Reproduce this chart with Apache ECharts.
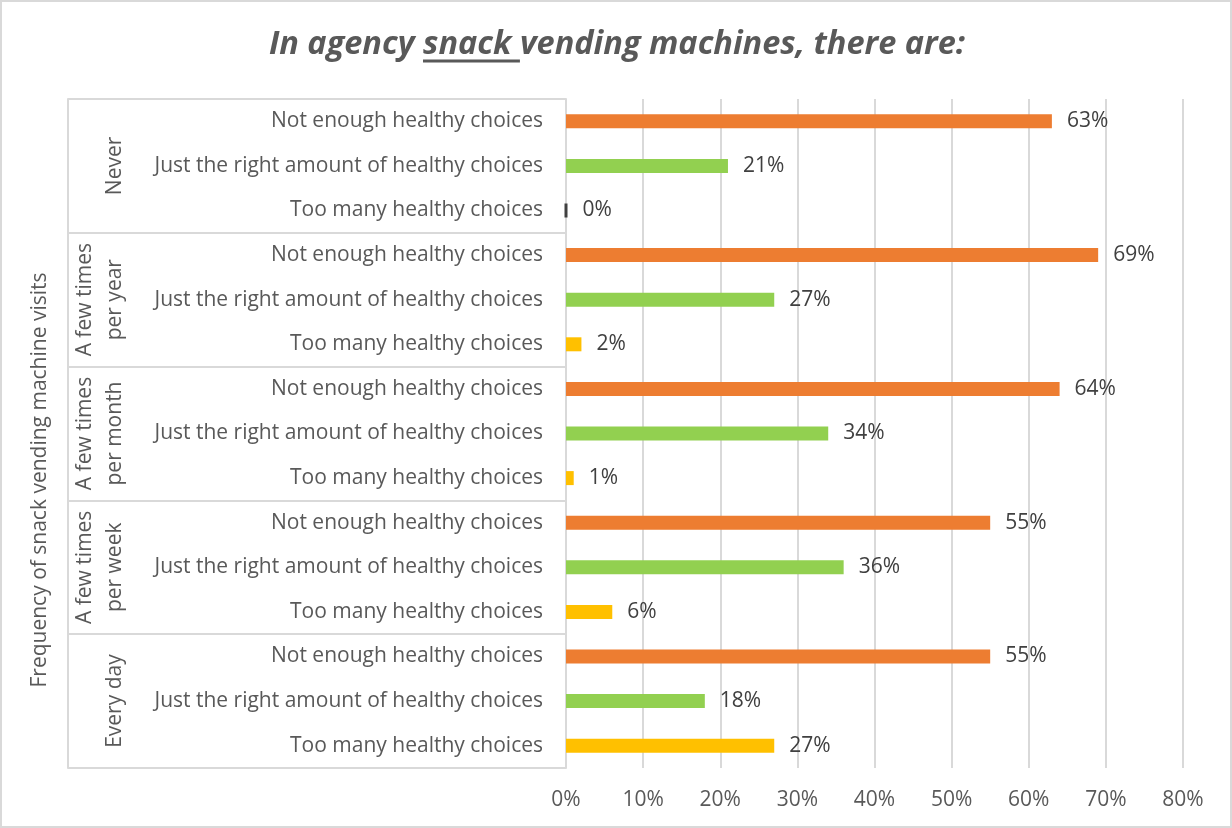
<!DOCTYPE html>
<html>
<head>
<meta charset="utf-8">
<script src="https://cdn.jsdelivr.net/npm/echarts@6/dist/echarts.min.js"></script>
<style>
  html, body { margin: 0; padding: 0; background: #fff; }
  #chart { width: 1232px; height: 828px; }
</style>
</head>
<body>
<div id="chart"></div>
<script>
// Visit frequency groups (top to bottom)
const groups = ['Never', 'A few times\nper year', 'A few times\nper month', 'A few times\nper week', 'Every day'];
// Answer options within each group
const choices = ['Not enough healthy choices', 'Just the right amount of healthy choices', 'Too many healthy choices'];
// Percent of respondents per group, in the same order as choices
const neverValues = [63, 21, 0];
const yearValues = [69, 27, 2];
const monthValues = [64, 34, 1];
const weekValues = [55, 36, 6];
const dailyValues = [55, 18, 27];
// x axis ticks
const xTicks = [0, 10, 20, 30, 40, 50, 60, 70, 80];

const titleText = 'In agency snack vending machines, there are:';
const axisTitle = 'Frequency of snack vending machine visits';

const choiceColors = ['#ED7D31', '#92D050', '#FFC000'];
const FONT = '"Open Sans", "Liberation Sans", sans-serif';
const FS = 21;
const gridLeft = 566, gridTop = 99, gridRight = 49, gridBottom = 60;
const outerLeft = 68;

const groupValues = [neverValues, yearValues, monthValues, weekValues, dailyValues];
const categories = [];
const barData = [];
groupValues.forEach(vals => {
  vals.forEach((v, i) => {
    categories.push(choices[i]);
    const item = { value: v, itemStyle: { color: choiceColors[i] } };
    if (v === 0) {
      // a zero-length bar still shows as a thin dark stroke
      item.itemStyle.borderColor = '#404040';
      item.itemStyle.borderWidth = 3;
    }
    barData.push(item);
  });
});

// Title layout: measure text so the word "snack" can be underlined
const titleFont = 'italic bold 32.5px ' + FONT;
const ctx = document.createElement('canvas').getContext('2d');
ctx.font = titleFont;
const fullW = ctx.measureText(titleText).width;
const preW = ctx.measureText('In agency ').width;
const snackW = ctx.measureText('In agency snack ').width;
const titleCx = 617, titleY = 45;
const titleX0 = titleCx - fullW / 2;

const chart = echarts.init(document.getElementById('chart'), null, { renderer: 'canvas' });

chart.setOption({
  animation: false,
  backgroundColor: '#fff',
  grid: { left: gridLeft, right: gridRight, top: gridTop, bottom: gridBottom, containLabel: false },
  xAxis: {
    type: 'value',
    min: 0, max: 80, interval: 10,
    axisLine: { show: false },
    axisTick: { show: false },
    splitLine: { show: true, lineStyle: { color: '#d9d9d9', width: 2 } },
    axisLabel: {
      margin: 22,
      color: '#595959',
      fontFamily: FONT,
      fontSize: FS,
      formatter: v => xTicks.includes(v) ? v + '%' : ''
    }
  },
  yAxis: [
    {
      // answer option labels
      type: 'category',
      inverse: true,
      data: categories,
      axisLine: { show: true, lineStyle: { color: '#d9d9d9', width: 2 } },
      axisTick: { show: false },
      axisLabel: { margin: 23, color: '#595959', fontFamily: FONT, fontSize: FS, interval: 0 }
    },
    {
      // visit frequency group labels and separators
      type: 'category',
      inverse: true,
      data: groups,
      position: 'left',
      offset: 0,
      axisLine: { show: false },
      axisTick: { show: true, length: gridLeft - outerLeft, lineStyle: { color: '#d9d9d9', width: 2 } },
      axisLabel: { rotate: 90, margin: 436, color: '#595959', fontFamily: FONT, fontSize: FS, lineHeight: 30, interval: 0 }
    },
    {
      // outer left border of the category area
      type: 'category',
      inverse: true,
      data: groups,
      position: 'left',
      offset: gridLeft - outerLeft,
      axisLine: { show: true, lineStyle: { color: '#d9d9d9', width: 2 } },
      axisTick: { show: false },
      axisLabel: { show: false }
    }
  ],
  series: [{
    type: 'bar',
    yAxisIndex: 0,
    barWidth: 14,
    data: barData,
    label: {
      show: true,
      position: 'right',
      distance: 15,
      color: '#404040',
      fontFamily: FONT,
      fontSize: FS,
      formatter: p => p.value + '%'
    }
  }],
  graphic: [
    {
      type: 'rect',
      shape: { x: 1, y: 1, width: 1230, height: 826 },
      style: { fill: 'none', stroke: '#d9d9d9', lineWidth: 2 },
      silent: true
    },
    {
      type: 'text',
      x: titleX0, y: titleY,
      style: {
        text: titleText,
        font: titleFont,
        fill: '#595959',
        textAlign: 'left',
        textVerticalAlign: 'middle'
      }
    },
    {
      type: 'line',
      shape: { x1: titleX0 + preW, y1: 61, x2: titleX0 + snackW, y2: 61 },
      style: { stroke: '#595959', lineWidth: 3 }
    },
    {
      type: 'text',
      x: 40, y: 480,
      rotation: Math.PI / 2,
      style: {
        text: axisTitle,
        font: '21px ' + FONT,
        fill: '#595959',
        textAlign: 'center',
        textVerticalAlign: 'middle'
      }
    }
  ]
});
</script>
</body>
</html>
